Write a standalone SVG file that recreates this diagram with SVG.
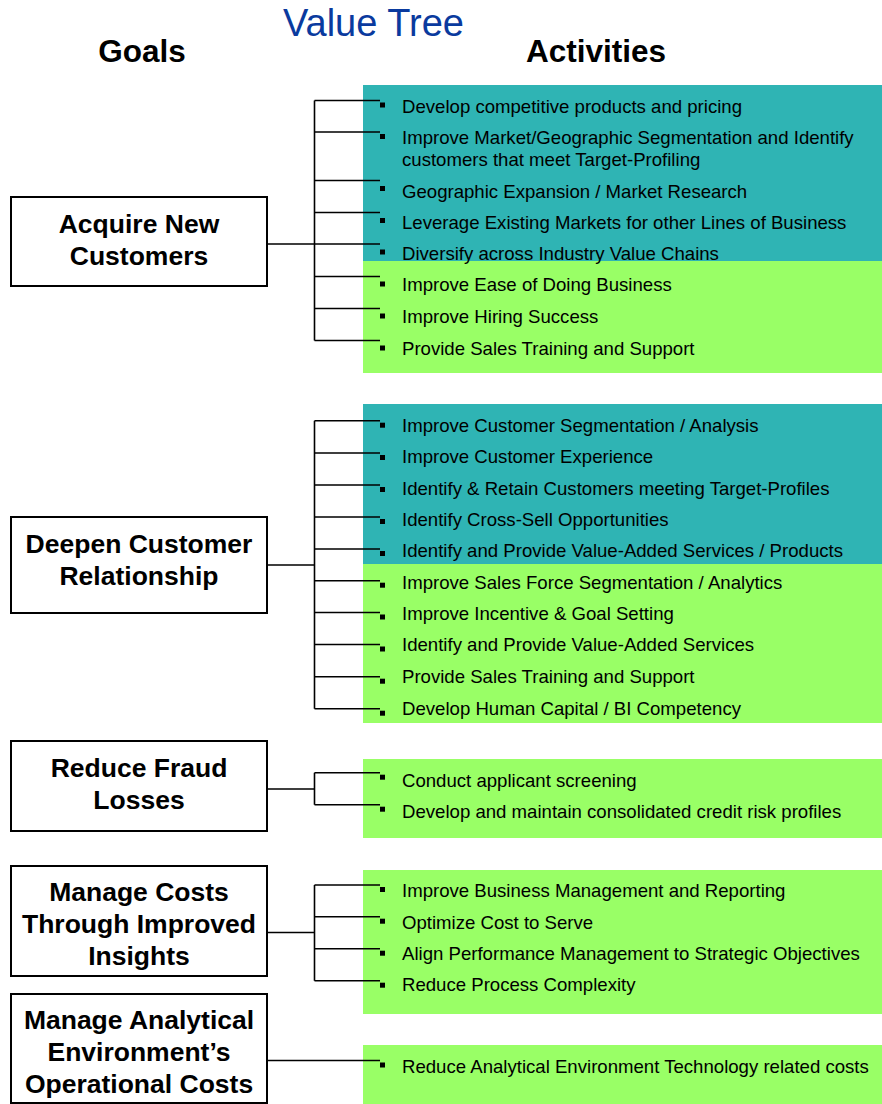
<svg xmlns="http://www.w3.org/2000/svg" width="882" height="1104" viewBox="0 0 882 1104">
<style>
.title{font-family:"Liberation Sans",Arial,sans-serif;font-size:38px;fill:#0A3A9E}
.hdr{font-family:"Liberation Sans",Arial,sans-serif;font-size:31.5px;font-weight:bold;fill:#000}
.goal rect{fill:#fff;stroke:#000;stroke-width:2}
.goal text{font-family:"Liberation Sans",Arial,sans-serif;font-size:26.5px;font-weight:bold;fill:#000;text-anchor:middle}
.act{font-family:"Liberation Sans",Arial,sans-serif;font-size:18.6px;fill:#000}
.teal{fill:#2FB4B4}
.green{fill:#99FF66}
.conn{stroke:#000;stroke-width:1.6;fill:none}
.bul{fill:#000}
</style>
<rect width="882" height="1104" fill="#fff"/>
<text class="title" x="283" y="36">Value Tree</text>
<text class="hdr" x="142" y="62" text-anchor="middle">Goals</text>
<text class="hdr" x="596" y="62" text-anchor="middle">Activities</text>

<g id="activity-panels">
<rect class="teal" x="363" y="85" width="519" height="176"/>
<rect class="green" x="363" y="261" width="519" height="112"/>
<rect class="teal" x="363" y="404" width="519" height="160"/>
<rect class="green" x="363" y="564" width="519" height="159"/>
<rect class="green" x="363" y="759" width="519" height="79"/>
<rect class="green" x="363" y="870" width="519" height="144"/>
<rect class="green" x="363" y="1045" width="519" height="59"/>
</g>

<g id="connectors" class="conn">
<path d="M267 244H314.5M314.5 100.5V340.5M314.5 100.5H380M314.5 132H380M314.5 180.5H380M314.5 212.5H380M314.5 244H380M314.5 276.5H380M314.5 308.5H380M314.5 340.5H380"/>
<path d="M267 565H314.5M314.5 420.7V708.7M314.5 420.7H380M314.5 453H380M314.5 485H380M314.5 517H380M314.5 549H380M314.5 580.7H380M314.5 612.5H380M314.5 644.5H380M314.5 676.7H380M314.5 708.7H380"/>
<path d="M267 789H314.5M314.5 772.7V804.7M314.5 772.7H380M314.5 804.7H380"/>
<path d="M267 932.5H314.5M314.5 885V980.7M314.5 885H380M314.5 916.7H380M314.5 948.7H380M314.5 980.7H380"/>
<path d="M267 1060.5H380"/>
</g>

<g id="goal-acquire" class="goal">
<rect x="11" y="197" width="256" height="89"/>
<text x="139" y="233">Acquire New</text>
<text x="139" y="265">Customers</text>
</g>
<g id="goal-deepen" class="goal">
<rect x="11" y="517" width="256" height="96"/>
<text x="139" y="553">Deepen Customer</text>
<text x="139" y="585">Relationship</text>
</g>
<g id="goal-fraud" class="goal">
<rect x="11" y="741" width="256" height="90"/>
<text x="139" y="777">Reduce Fraud</text>
<text x="139" y="809">Losses</text>
</g>
<g id="goal-costs" class="goal">
<rect x="11" y="866" width="256" height="110"/>
<text x="139" y="901">Manage Costs</text>
<text x="139" y="933">Through Improved</text>
<text x="139" y="965">Insights</text>
</g>
<g id="goal-analytical" class="goal">
<rect x="11" y="994" width="256" height="109"/>
<text x="139" y="1029">Manage Analytical</text>
<text x="139" y="1061">Environment’s</text>
<text x="139" y="1093">Operational Costs</text>
</g>

<g id="activities-acquire">
<rect class="bul" x="380" y="102.5" width="5" height="5"/><text class="act" x="402" y="113">Develop competitive products and pricing</text>
<rect class="bul" x="380" y="134" width="5" height="5"/><text class="act" x="402" y="144">Improve Market/Geographic Segmentation and Identify</text>
<text class="act" x="402" y="165.7">customers that meet Target-Profiling</text>
<rect class="bul" x="380" y="186" width="5" height="5"/><text class="act" x="402" y="197.5">Geographic Expansion / Market Research</text>
<rect class="bul" x="380" y="218" width="5" height="5"/><text class="act" x="402" y="229">Leverage Existing Markets for other Lines of Business</text>
<rect class="bul" x="380" y="249.5" width="5" height="5"/><text class="act" x="402" y="260">Diversify across Industry Value Chains</text>
<rect class="bul" x="380" y="281.5" width="5" height="5"/><text class="act" x="402" y="291">Improve Ease of Doing Business</text>
<rect class="bul" x="380" y="313.5" width="5" height="5"/><text class="act" x="402" y="323">Improve Hiring Success</text>
<rect class="bul" x="380" y="345.5" width="5" height="5"/><text class="act" x="402" y="355">Provide Sales Training and Support</text>
</g>

<g id="activities-deepen">
<rect class="bul" x="380" y="422.7" width="5" height="5"/><text class="act" x="402" y="431.7">Improve Customer Segmentation / Analysis</text>
<rect class="bul" x="380" y="455" width="5" height="5"/><text class="act" x="402" y="462.5">Improve Customer Experience</text>
<rect class="bul" x="380" y="487" width="5" height="5"/><text class="act" x="402" y="494.5">Identify &amp; Retain Customers meeting Target-Profiles</text>
<rect class="bul" x="380" y="519" width="5" height="5"/><text class="act" x="402" y="525.5">Identify Cross-Sell Opportunities</text>
<rect class="bul" x="380" y="551" width="5" height="5"/><text class="act" x="402" y="557">Identify and Provide Value-Added Services / Products</text>
<rect class="bul" x="380" y="582.7" width="5" height="5"/><text class="act" x="402" y="588.5">Improve Sales Force Segmentation / Analytics</text>
<rect class="bul" x="380" y="614.5" width="5" height="5"/><text class="act" x="402" y="620">Improve Incentive &amp; Goal Setting</text>
<rect class="bul" x="380" y="646.5" width="5" height="5"/><text class="act" x="402" y="651">Identify and Provide Value-Added Services</text>
<rect class="bul" x="380" y="678.7" width="5" height="5"/><text class="act" x="402" y="682.5">Provide Sales Training and Support</text>
<rect class="bul" x="380" y="710.7" width="5" height="5"/><text class="act" x="402" y="714.5">Develop Human Capital / BI Competency</text>
</g>

<g id="activities-fraud">
<rect class="bul" x="380" y="774.7" width="5" height="5"/><text class="act" x="402" y="787">Conduct applicant screening</text>
<rect class="bul" x="380" y="806.7" width="5" height="5"/><text class="act" x="402" y="818">Develop and maintain consolidated credit risk profiles</text>
</g>

<g id="activities-costs">
<rect class="bul" x="380" y="887" width="5" height="5"/><text class="act" x="402" y="897">Improve Business Management and Reporting</text>
<rect class="bul" x="380" y="918.7" width="5" height="5"/><text class="act" x="402" y="929">Optimize Cost to Serve</text>
<rect class="bul" x="380" y="950.7" width="5" height="5"/><text class="act" x="402" y="960">Align Performance Management to Strategic Objectives</text>
<rect class="bul" x="380" y="982.7" width="5" height="5"/><text class="act" x="402" y="991">Reduce Process Complexity</text>
</g>

<g id="activities-analytical">
<rect class="bul" x="380" y="1062.5" width="5" height="5"/><text class="act" x="402" y="1073">Reduce Analytical Environment Technology related costs</text>
</g>
</svg>
